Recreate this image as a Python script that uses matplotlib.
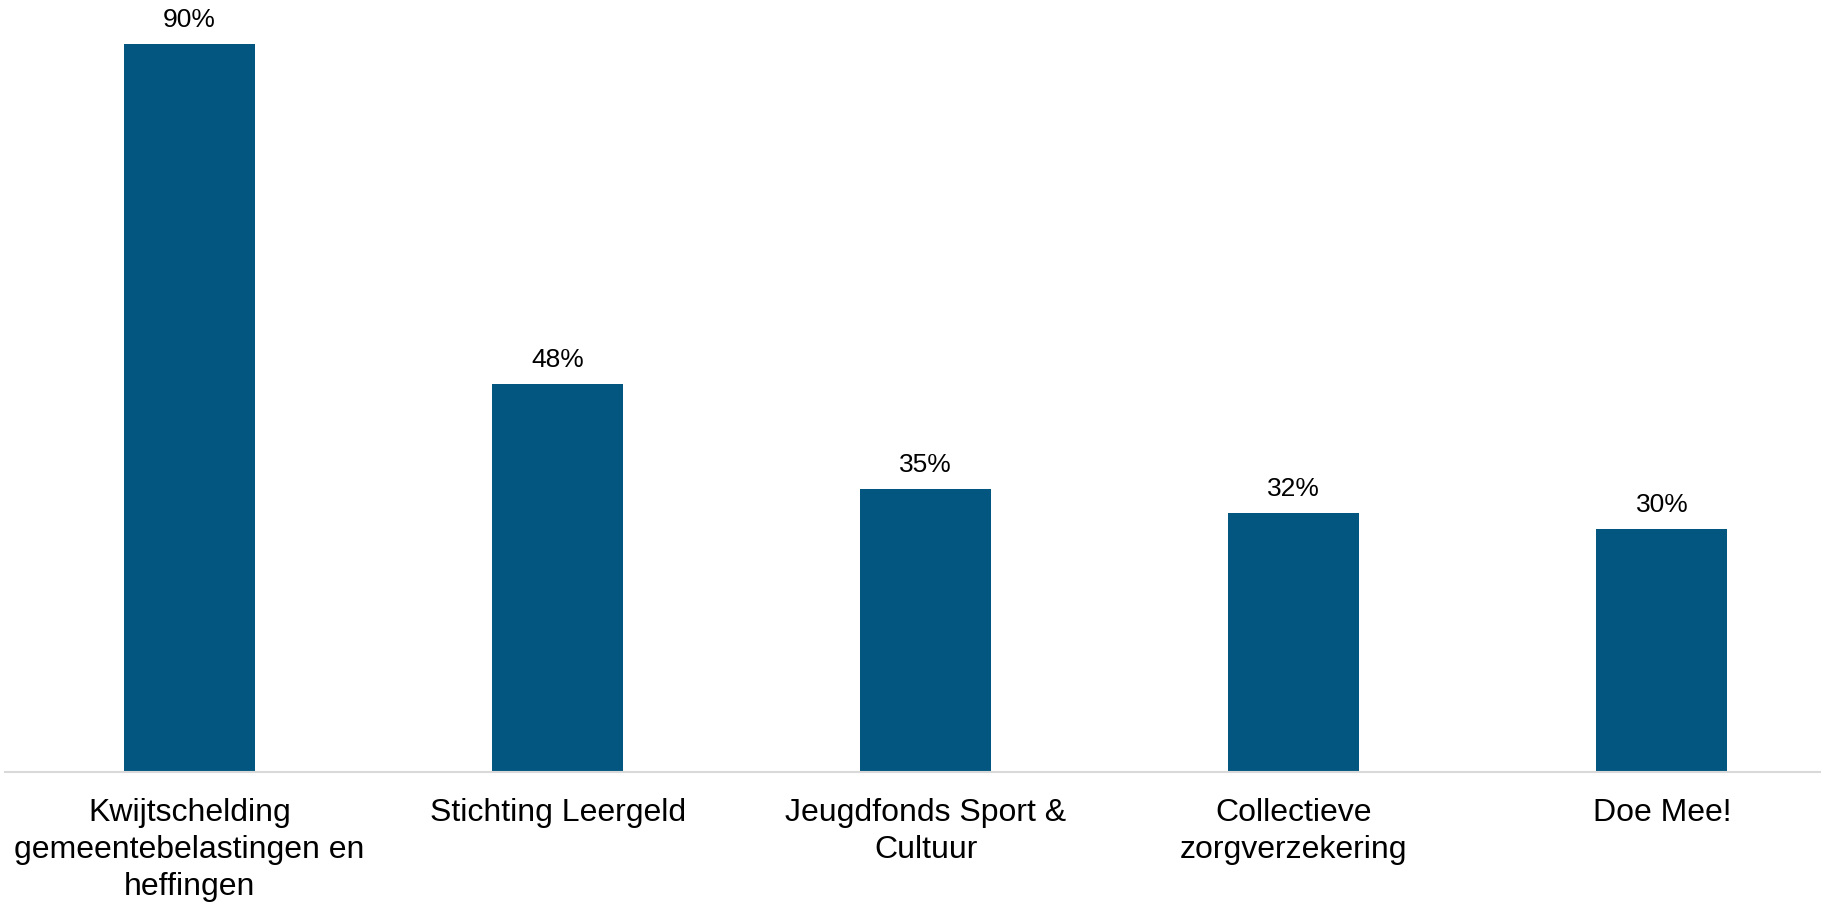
import matplotlib.pyplot as plt
import numpy as np

plt.rcParams['font.family'] = ['Liberation Sans', 'DejaVu Sans']

# data
categories = ["Kwijtschelding\ngemeentebelastingen en\nheffingen",
              "Stichting Leergeld",
              "Jeugdfonds Sport &\nCultuur",
              "Collectieve\nzorgverzekering",
              "Doe Mee!"]
values = [90, 48, 35, 32, 30]

fig = plt.figure(figsize=(18.21, 9.03), dpi=100)
ax = fig.add_axes([5 / 1821, 1 - 773 / 903, 1816 / 1821, 773 / 903])

x = np.arange(len(categories))
bars = ax.bar(x, values, width=0.356, color="#02567f", zorder=2)

for xi, v in zip(x, values):
    ax.text(xi, v + 1.6, f"{v}%", ha="center", va="bottom", fontsize=19)

ax.set_xlim(-0.501, 4.432)
ax.set_ylim(0, 773 / 8.09)

ax.set_xticks(x)
ax.set_xticklabels(categories, fontsize=23, linespacing=1.3)
ax.tick_params(axis="x", length=0, pad=18)
ax.set_yticks([])

for s in ["top", "right", "left"]:
    ax.spines[s].set_visible(False)
ax.spines["bottom"].set_color("#d9d9d9")
ax.spines["bottom"].set_linewidth(1.5)

fig.savefig("out.png", dpi=100)
